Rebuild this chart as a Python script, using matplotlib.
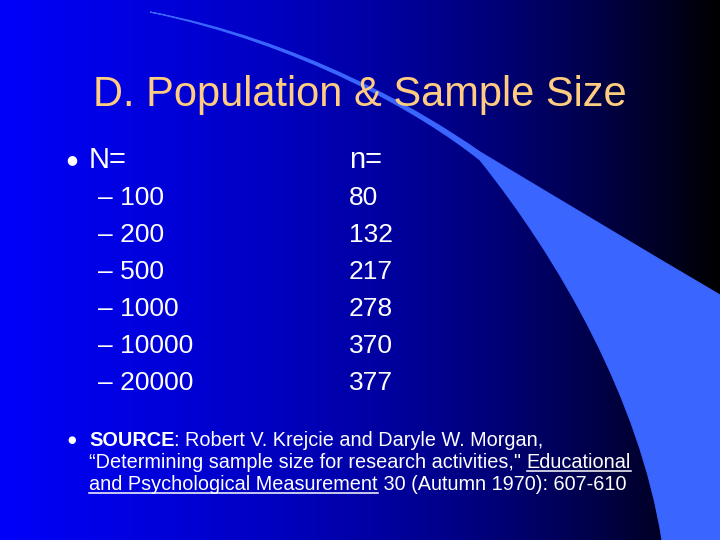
import numpy as np
import matplotlib
matplotlib.use("Agg")
import matplotlib.pyplot as plt
from matplotlib.path import Path
from matplotlib.patches import PathPatch

big_n = ["100", "200", "500", "1000", "10000", "20000"]
small_n = ["80", "132", "217", "278", "370", "377"]

W, H = 720, 540
fig = plt.figure(figsize=(7.2, 5.4), dpi=100)
ax = fig.add_axes([0, 0, 1, 1])
ax.set_xlim(0, W)
ax.set_ylim(H, 0)
ax.axis("off")

# horizontal gradient, bright blue -> black
x = np.linspace(0, 1, 400)
r = np.zeros_like(x)
g = np.zeros_like(x)
b = np.clip(1.0 - 0.55 * x - 0.45 * x ** 3, 0, 1) * 0.98
grad = np.dstack([r, g, b])[0][None, :, :]
grad = np.repeat(grad, 2, axis=0)
ax.imshow(grad, extent=[0, W, H, 0], aspect="auto", zorder=0)

# thin arc at the top that opens into a light blue wedge on the right
verts = [(150, 12), (300, 40), (420, 110), (480, 152),
         (560, 200), (640, 248), (720, 295),
         (720, 540), (662, 540),
         (640, 400), (560, 260), (480, 160),
         (420, 112), (300, 44), (150, 12)]
codes = [Path.MOVETO, Path.CURVE4, Path.CURVE4, Path.CURVE4,
         Path.CURVE4, Path.CURVE4, Path.CURVE4,
         Path.LINETO, Path.LINETO,
         Path.CURVE4, Path.CURVE4, Path.CURVE4,
         Path.CURVE4, Path.CURVE4, Path.CURVE4]
ax.add_patch(PathPatch(Path(verts, codes), facecolor="#3a66ff", edgecolor="#3a66ff",
                       lw=0.8, zorder=1))

font = "Liberation Sans"
ax.text(360, 95, "D. Population & Sample Size", color="#ffcc80", fontsize=30,
        family=font, ha="center", va="center", zorder=3)

white = "white"
ax.text(72, 160, "●", color=white, fontsize=9, family="DejaVu Sans", ha="center", va="center")
ax.text(89, 160, "N=", color=white, fontsize=21, family=font, va="center")
ax.text(349, 160, "n=", color=white, fontsize=21, family=font, va="center")
for i, (a, c) in enumerate(zip(big_n, small_n)):
    y = 198 + i * 37
    ax.text(98, y, "– " + a, color=white, fontsize=19, family=font, va="center")
    ax.text(349, y, c, color=white, fontsize=19, family=font, va="center")

ax.text(72, 440, "●", color=white, fontsize=7, family="DejaVu Sans", ha="center", va="center")
fs = 14.3
l1a = ax.text(89, 440, "SOURCE", color=white, fontsize=fs, family=font, weight="bold", va="center")
fig.canvas.draw()
rend = fig.canvas.get_renderer()
inv = ax.transData.inverted()


def right_of(t):
    bb = t.get_window_extent(rend)
    return inv.transform((bb.x1, bb.y0))[0]


ax.text(right_of(l1a), 440, ": Robert V. Krejcie and Daryle W. Morgan,", color=white,
        fontsize=fs, family=font, va="center")
t2 = ax.text(89, 462, "“Determining sample size for research activities,\" ", color=white,
             fontsize=fs, family=font, va="center")
fig.canvas.draw()
t2b = ax.text(right_of(t2), 462, "Educational", color=white, fontsize=fs, family=font, va="center")
t3 = ax.text(89, 484, "and Psychological Measurement", color=white, fontsize=fs, family=font, va="center")
fig.canvas.draw()
ax.text(right_of(t3), 484, " 30 (Autumn 1970): 607-610", color=white, fontsize=fs, family=font, va="center")

for t, y in [(t2b, 462), (t3, 484)]:
    bb = t.get_window_extent(rend)
    x0 = inv.transform((bb.x0, 0))[0]
    x1 = inv.transform((bb.x1, 0))[0]
    ax.plot([x0, x1], [y + 9, y + 9], color=white, lw=1.1, zorder=3)

fig.savefig("out.png", dpi=100)
